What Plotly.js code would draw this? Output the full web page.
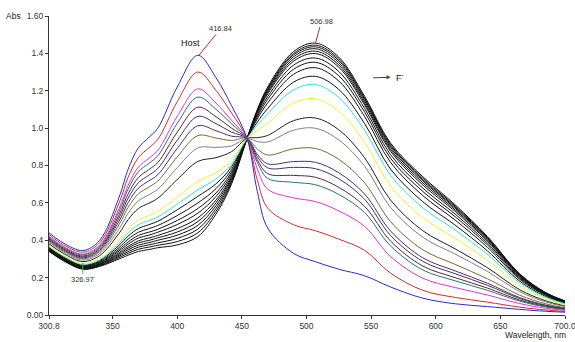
<!DOCTYPE html>
<html>
<head>
<meta charset="utf-8">
<script src="https://cdn.plot.ly/plotly-3.0.1.min.js"></script>
<style>
html,body{margin:0;padding:0;background:#fff;}
#chart{width:575px;height:342px;}
</style>
</head>
<body>
<div id="chart"></div>
<script>
// Wavelength grid (nm)
const wavelength = [300.8,312,327,340,355,362,370,378,385,400,416,430,442,454,462,470,490,507,525,545,565,590,615,640,665,685,700];

// Absorbance spectra, host alone through to excess F-
const host  = [.44,.385,.345,.40,.63,.78,.895,.95,1.00,1.22,1.39,1.27,1.12,.945,.66,.465,.33,.285,.245,.21,.15,.09,.06,.045,.03,.02,.015];
const eq1   = [.431,.376,.336,.387,.599,.737,.843,.894,.940,1.141,1.300,1.202,1.081,.945,.722,.572,.483,.451,.406,.346,.224,.132,.094,.069,.042,.027,.019];
const eq2   = [.421,.367,.326,.374,.569,.694,.792,.838,.881,1.063,1.210,1.134,1.042,.945,.781,.673,.627,.607,.557,.474,.313,.197,.147,.107,.061,.036,.025];
const eq3   = [.417,.363,.322,.368,.554,.674,.767,.811,.852,1.025,1.166,1.101,1.023,.945,.815,.731,.710,.697,.645,.548,.370,.241,.183,.132,.074,.043,.029];
const eq4   = [.411,.358,.316,.360,.535,.648,.736,.778,.816,.978,1.112,1.061,1.000,.945,.830,.756,.747,.737,.683,.581,.396,.262,.200,.144,.080,.046,.031];
const eq5   = [.406,.353,.311,.353,.519,.625,.708,.748,.784,.935,1.063,1.024,.979,.945,.847,.787,.790,.783,.729,.619,.426,.287,.221,.159,.088,.050,.033];
const eq6   = [.401,.348,.306,.346,.502,.601,.679,.717,.751,.891,1.013,.986,.957,.945,.860,.809,.821,.817,.761,.647,.450,.306,.236,.170,.093,.053,.035];
const eq7   = [.396,.343,.301,.338,.484,.576,.649,.684,.717,.846,.960,.947,.934,.945,.888,.856,.889,.891,.833,.707,.500,.349,.271,.194,.106,.060,.039];
const eq8   = [.389,.337,.294,.329,.461,.545,.611,.643,.673,.788,.894,.897,.905,.945,.928,.926,.989,.999,.937,.796,.576,.416,.326,.233,.125,.070,.045];
const eq9   = [.381,.329,.286,.318,.437,.510,.570,.598,.625,.725,.822,.842,.874,.945,.949,.961,1.040,1.054,.991,.841,.615,.451,.354,.253,.135,.076,.048];
const eq10  = [.370,.319,.275,.303,.400,.460,.509,.532,.555,.632,.715,.762,.828,.945,.988,1.027,1.135,1.157,1.091,.925,.691,.520,.411,.293,.156,.086,.055];
const eq11  = [.366,.315,.271,.296,.385,.439,.483,.505,.525,.593,.670,.728,.808,.945,1.016,1.077,1.205,1.233,1.164,.988,.748,.574,.455,.324,.172,.095,.060];
const eq12  = [.362,.311,.267,.291,.373,.422,.463,.483,.502,.563,.635,.702,.793,.945,1.033,1.105,1.246,1.277,1.207,1.024,.781,.606,.481,.343,.181,.099,.063];
const eq13  = [.359,.308,.264,.286,.361,.406,.443,.462,.479,.532,.600,.676,.778,.945,1.050,1.135,1.288,1.323,1.252,1.062,.817,.639,.508,.362,.191,.105,.066];
const eq14  = [.356,.305,.261,.282,.351,.391,.426,.443,.459,.506,.570,.653,.765,.945,1.061,1.154,1.315,1.352,1.280,1.086,.839,.661,.526,.375,.197,.108,.068];
const eq15  = [.353,.302,.258,.278,.343,.379,.412,.427,.443,.484,.545,.634,.754,.945,1.070,1.169,1.337,1.375,1.303,1.105,.858,.679,.540,.385,.202,.111,.069];
const eq16  = [.350,.300,.255,.274,.334,.367,.397,.412,.426,.462,.520,.615,.743,.945,1.079,1.184,1.358,1.399,1.326,1.124,.876,.696,.554,.395,.207,.113,.071];
const eq17  = [.348,.298,.253,.272,.327,.358,.386,.399,.413,.444,.500,.600,.734,.945,1.084,1.192,1.370,1.412,1.338,1.134,.886,.707,.563,.401,.210,.115,.072];
const eq18  = [.346,.296,.251,.269,.320,.349,.374,.387,.400,.427,.480,.585,.726,.945,1.089,1.200,1.382,1.425,1.350,1.145,.896,.717,.571,.407,.213,.116,.073];
const eq19  = [.344,.294,.249,.266,.314,.339,.363,.375,.386,.410,.460,.570,.717,.945,1.093,1.207,1.392,1.435,1.361,1.154,.905,.724,.577,.411,.215,.118,.074];
const eq20  = [.342,.292,.247,.263,.307,.330,.352,.363,.373,.393,.440,.555,.709,.945,1.096,1.213,1.400,1.444,1.370,1.161,.912,.732,.583,.415,.218,.119,.074];
const final = [.34,.29,.245,.26,.30,.32,.34,.35,.36,.375,.42,.54,.70,.945,1.10,1.22,1.41,1.455,1.38,1.17,.92,.74,.59,.42,.22,.12,.075];

// Tick labels
const xTickVals = [300.8,350,400,450,500,550,600,650,700];
const xTickText = ["300.8","350","400","450","500","550","600","650","700.0"];
const yTickVals = [0,0.2,0.4,0.6,0.8,1.0,1.2,1.4,1.6];
const yTickText = ["0.00","0.2","0.4","0.6","0.8","1.0","1.2","1.4","1.60"];

// Annotation values
const hostPeak = {x:416.84, y:1.39, label:"416.84"};
const complexPeak = {x:506.98, y:1.455, label:"506.98"};
const minimum = {x:326.97, y:0.28, label:"326.97"};

const series = [
  {y:host,  c:'#2a2ad0'},
  {y:eq1,   c:'#d42a2a'},
  {y:eq2,   c:'#e030e0'},
  {y:eq3,   c:'#2a7070'},
  {y:eq4,   c:'#5a2a2a'},
  {y:eq5,   c:'#36366a'},
  {y:eq6,   c:'#5a2a68'},
  {y:eq7,   c:'#707030'},
  {y:eq8,   c:'#808080'},
  {y:eq9,   c:'#202020'},
  {y:eq10,  c:'#f2f22a'},
  {y:eq11,  c:'#2ae6e6'},
  {y:eq12,  c:'#111'},
  {y:eq13,  c:'#111'},
  {y:eq14,  c:'#111'},
  {y:eq15,  c:'#111'},
  {y:eq16,  c:'#111'},
  {y:eq17,  c:'#111'},
  {y:eq18,  c:'#111'},
  {y:eq19,  c:'#111'},
  {y:eq20,  c:'#111'},
  {y:final, c:'#111'}
];

const traces = series.slice().reverse().map(s => ({
  x: wavelength, y: s.y, type:'scatter', mode:'lines',
  line:{color:s.c, width:1, shape:'spline', smoothing:1.0},
  hoverinfo:'skip', showlegend:false
}));

const tickFont = {family:'Arial, "Liberation Sans", sans-serif', size:8.5, color:'#333'};
const layout = {
  width:575, height:342,
  margin:{l:49, r:10, t:16, b:27},
  paper_bgcolor:'#fff', plot_bgcolor:'#fff',
  showlegend:false,
  xaxis:{range:[300.8,700], tickvals:xTickVals, ticktext:xTickText, showgrid:false, zeroline:false,
         showline:true, linecolor:'#333', linewidth:1, ticks:'outside', ticklen:3, tickcolor:'#333',
         tickfont:tickFont, ticklabeloverflow:'allow', fixedrange:true},
  yaxis:{range:[0,1.6], tickvals:yTickVals, ticktext:yTickText, showgrid:false, zeroline:false,
         showline:true, linecolor:'#333', linewidth:1, ticks:'outside', ticklen:3, tickcolor:'#333',
         tickfont:tickFont, ticklabeloverflow:'allow', fixedrange:true},
  annotations:[
    {x:hostPeak.x, y:hostPeak.y, text:hostPeak.label, showarrow:true, arrowhead:0, arrowwidth:1,
     arrowcolor:'#c82828', ax:22, ay:-27, font:{family:'Arial',size:7.5,color:'#333'}},
    {x:complexPeak.x, y:complexPeak.y, text:complexPeak.label, showarrow:true, arrowhead:0, arrowwidth:1,
     arrowcolor:'#c82828', ax:6, ay:-22, font:{family:'Arial',size:7.5,color:'#333'}},
    {x:minimum.x, y:minimum.y, text:minimum.label, showarrow:true, arrowhead:0, arrowwidth:1,
     arrowcolor:'#22cc22', ax:0, ay:17, font:{family:'Arial',size:7.5,color:'#333'}},
    {x:410.4, y:1.457, text:'Host', showarrow:false, font:{family:'Arial',size:9,color:'#111'}},
    {x:551.5, y:1.269, ax:27, ay:-1, text:'F<sup>-</sup>', showarrow:true, arrowside:'start', arrowhead:2,
     startarrowhead:2, startarrowsize:0.8, arrowsize:0.8, arrowwidth:1, arrowcolor:'#444', startstandoff:4,
     font:{family:'Arial',size:9,color:'#222'}},
    {xref:'paper', yref:'paper', x:-0.05, y:1.0, xanchor:'right', yanchor:'middle', text:'Abs', showarrow:false,
     font:{family:'Arial',size:8.5,color:'#222'}},
    {xref:'paper', yref:'paper', x:1.006, y:-0.066, xanchor:'right', yanchor:'middle', text:'Wavelength, nm', showarrow:false,
     font:{family:'Arial',size:8.5,color:'#222'}}
  ]
};

Plotly.newPlot('chart', traces, layout, {displayModeBar:false, staticPlot:true});
</script>
</body>
</html>
